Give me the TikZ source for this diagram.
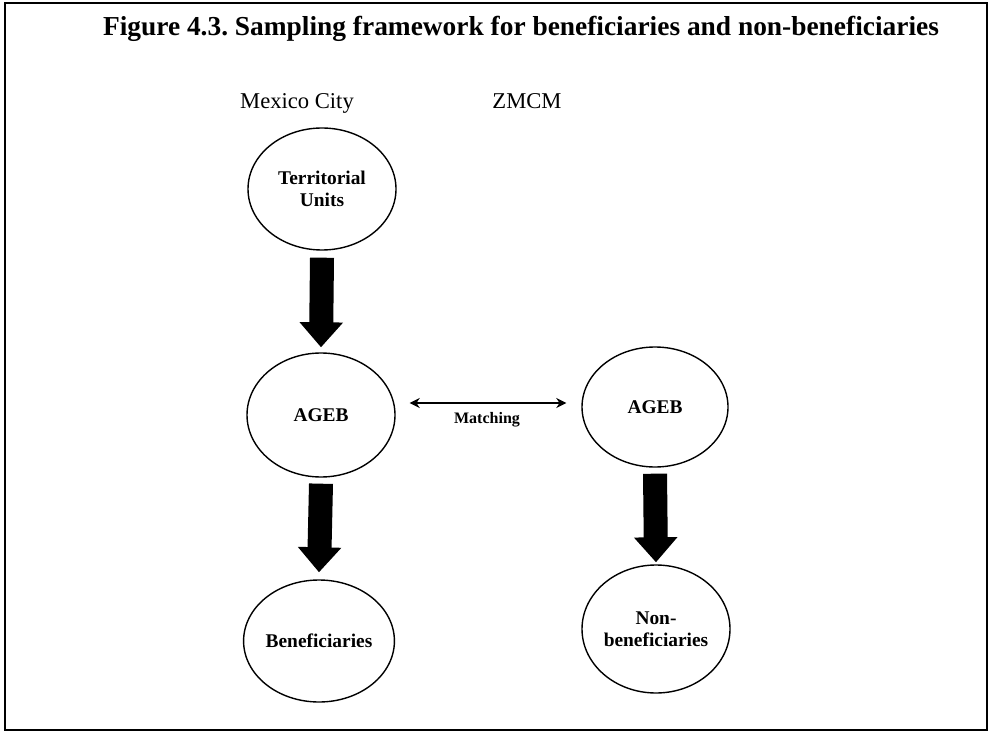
\documentclass[tikz,border=0pt]{standalone}
\usepackage{fontspec}
\setmainfont{Liberation Serif}
\frenchspacing
\usepackage{tikz}
\usetikzlibrary{shapes}
\usetikzlibrary{arrows.meta}
\tikzset{
  stage_node/.style = {ellipse, draw=black, line width=0.7pt, inner sep=0pt,
    align=center, minimum width=74pt, minimum height=61pt,
    font=\bfseries\fontsize{9.7}{11}\selectfont},% ellipse de l'echantillon
  big_arrow/.style = {line width=12pt,
    -{Triangle[width=21pt,length=12.5pt]}},% fleche epaisse
  match_arrow/.style = {line width=0.8pt,
    {Stealth[width=5pt,length=5pt]}-{Stealth[width=5pt,length=5pt]}},% appariement
  head_text/.style = {anchor=base, font=\fontsize{11.3}{13}\selectfont}% titre de colonne
}
\begin{document}
\begin{tikzpicture}[x=0.5pt, y=-0.5pt]
      \useasboundingbox (0,0) rectangle (989,732);
      \draw[line width=1pt] (5,3) rectangle (987,730);
      \node [anchor=base] (title) at (521,36) {\bfseries\fontsize{13.7}{16}\selectfont
        Figure 4.3. Sampling framework for beneficiaries and non-beneficiaries};
      \node [head_text] (city) at (297,109) {Mexico City};
      \node [head_text] (zmcm) at (527,109) {ZMCM};
      \node [stage_node] (units) at (322,189) {Territorial\\Units};
      \node [stage_node, minimum height=62pt] (agebl) at (321,415) {AGEB};
      \node [stage_node] (benef) at (319,641) {Beneficiaries};
      \node [stage_node, minimum width=73pt, minimum height=60pt] (agebr) at (655,407) {AGEB};
      \node [stage_node, minimum height=64pt] (nonbenef) at (656,629) {Non-\\beneficiaries};
      \draw [big_arrow] ([yshift=-3.5pt]units.south) -- ([yshift=2.5pt]agebl.north);
      \draw [big_arrow] ([yshift=-3pt]agebl.south) -- ([yshift=3.5pt]benef.north);
      \draw [big_arrow] ([yshift=-3pt]agebr.south) -- ([yshift=1pt]nonbenef.north);
      \coordinate (ml) at ([shift={(7pt,6pt)}]agebl.east);
      \draw [match_arrow, shorten >=7.5pt] (ml) -- (ml -| agebr.west);
      \node [font=\bfseries\fontsize{8}{10}\selectfont] (match) at (487,420) {Matching};
\end{tikzpicture}
\end{document}
